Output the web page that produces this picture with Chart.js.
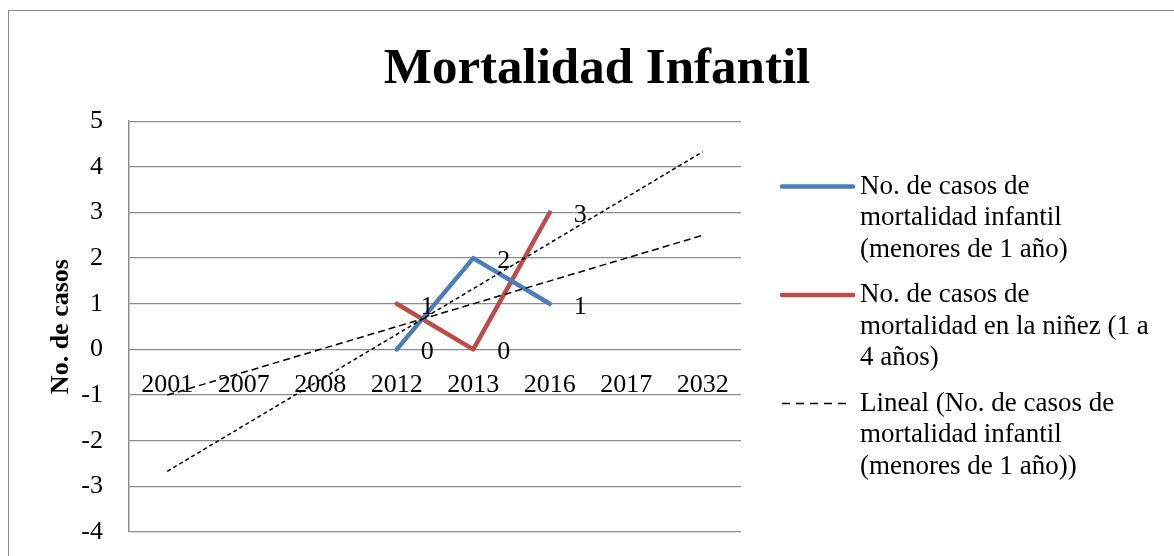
<!DOCTYPE html>
<html>
<head>
<meta charset="utf-8">
<script src="https://cdn.jsdelivr.net/npm/chart.js@4"></script>
<style>
  html, body { margin: 0; padding: 0; background: #fff; overflow: hidden; }
  #marco { position: absolute; left: 8px; top: 10px; width: 2000px; height: 2000px; border-left: 1.5px solid #8a8a8a; border-top: 1.5px solid #8a8a8a; }
  #lienzo { position: absolute; left: 0; top: 0; width: 1174px; height: 556px; }
</style>
</head>
<body>
<div id="marco"></div>
<div id="lienzo"><canvas id="mortalidadChart" width="1174" height="556"></canvas></div>
<script>
// Datos
var anios = ['2001', '2007', '2008', '2012', '2013', '2016', '2017', '2032'];
var casosInfantil = [null, null, null, 0, 2, 1, null, null];
var casosNinez = [null, null, null, 1, 0, 3, null, null];
// Lineas de tendencia (solo extremos)
var tendenciaInfantil = [-1, null, null, null, null, null, null, 2.5];
var tendenciaNinez = [-2.67, null, null, null, null, null, null, 4.33];
var yMin = -4;
var yMax = 5;

var leyendaInfantil = ['No. de casos de', 'mortalidad infantil', '(menores de 1 año)'];
var leyendaNinez = ['No. de casos de', 'mortalidad en la niñez (1 a', '4 años)'];
var leyendaLineal = ['Lineal (No. de casos de', 'mortalidad infantil', '(menores de 1 año))'];

var fuente = 'Liberation Serif';
var azul = '#4A7EBB';
var rojo = '#BE4B48';

// Etiquetas de valores a la derecha de cada punto
var etiquetasValores = {
    id: 'etiquetasValores',
    afterDatasetsDraw: function (chart) {
        var ctx = chart.ctx;
        ctx.save();
        ctx.font = '26px "' + fuente + '"';
        ctx.fillStyle = '#000';
        ctx.textAlign = 'left';
        ctx.textBaseline = 'middle';
        chart.data.datasets.forEach(function (ds, i) {
            if (!ds.mostrarValores) return;
            chart.getDatasetMeta(i).data.forEach(function (pt, j) {
                if (ds.data[j] === null) return;
                ctx.fillText(String(ds.data[j]), pt.x + 24, pt.y + 3);
            });
        });
        ctx.restore();
    }
};

// Leyenda de varias lineas a la derecha
var leyendaDerecha = {
    id: 'leyendaDerecha',
    afterDraw: function (chart) {
        var ctx = chart.ctx;
        var area = chart.chartArea;
        var items = [
            { lineas: leyendaInfantil, ds: chart.data.datasets[2] },
            { lineas: leyendaNinez, ds: chart.data.datasets[3] },
            { lineas: leyendaLineal, ds: chart.data.datasets[0], guiones: [8, 6] }
        ];
        var altoLinea = 31.5;
        var separacion = 14;
        var total = 0;
        items.forEach(function (it) { total += it.lineas.length * altoLinea; });
        total += separacion * (items.length - 1);
        var y = (area.top + area.bottom) / 2 - total / 2 + altoLinea / 2;
        var x0 = area.right + 41;
        var tx = area.right + 119;

        ctx.save();
        ctx.font = '27px "' + fuente + '"';
        ctx.fillStyle = '#000';
        ctx.textAlign = 'left';
        ctx.textBaseline = 'middle';
        items.forEach(function (it) {
            ctx.beginPath();
            ctx.strokeStyle = it.ds.borderColor;
            if (it.guiones) {
                ctx.lineWidth = 1.5;
                ctx.lineCap = 'butt';
                ctx.setLineDash(it.guiones);
                ctx.moveTo(x0, y);
                ctx.lineTo(x0 + 66, y);
            } else {
                ctx.lineWidth = it.ds.borderWidth;
                ctx.lineCap = 'round';
                ctx.setLineDash([]);
                ctx.moveTo(x0, y);
                ctx.lineTo(x0 + 71, y);
            }
            ctx.stroke();
            ctx.setLineDash([]);
            it.lineas.forEach(function (txt, k) {
                ctx.fillText(txt, tx, y + k * altoLinea);
            });
            y += it.lineas.length * altoLinea + separacion;
        });
        ctx.restore();
    }
};

var ctx = document.getElementById('mortalidadChart').getContext('2d');
var chart = new Chart(ctx, {
    type: 'line',
    data: {
        labels: anios,
        datasets: [{
            label: 'Lineal (No. de casos de mortalidad infantil (menores de 1 año))',
            data: tendenciaInfantil,
            borderColor: '#000',
            borderWidth: 1.5,
            borderDash: [7, 4],
            spanGaps: true,
            pointRadius: 0,
            order: 0
        }, {
            label: 'Lineal (No. de casos de mortalidad en la niñez (1 a 4 años))',
            data: tendenciaNinez,
            borderColor: '#000',
            borderWidth: 1.5,
            borderDash: [4, 3],
            spanGaps: true,
            pointRadius: 0,
            order: 0
        }, {
            label: 'No. de casos de mortalidad infantil (menores de 1 año)',
            data: casosInfantil,
            borderColor: azul,
            borderWidth: 4.5,
            borderJoinStyle: 'round',
            borderCapStyle: 'round',
            pointRadius: 0,
            mostrarValores: true,
            order: 1
        }, {
            label: 'No. de casos de mortalidad en la niñez (1 a 4 años)',
            data: casosNinez,
            borderColor: rojo,
            borderWidth: 4.5,
            borderJoinStyle: 'round',
            borderCapStyle: 'round',
            pointRadius: 0,
            mostrarValores: true,
            order: 1
        }]
    },
    options: {
        responsive: false,
        animation: false,
        layout: { padding: { left: 20, top: 0, right: 0, bottom: 24 } },
        plugins: {
            legend: { display: false },
            tooltip: { enabled: false },
            title: {
                display: true,
                text: 'Mortalidad Infantil',
                color: '#000',
                font: { family: fuente, size: 51, weight: 'bold' },
                padding: { top: 39, bottom: 21 }
            }
        },
        scales: {
            x: {
                position: { y: 0 },
                offset: true,
                grid: { display: false, drawTicks: false },
                border: { display: false },
                ticks: {
                    color: '#000',
                    font: { family: fuente, size: 26 },
                    padding: 20,
                    autoSkip: false,
                    maxRotation: 0
                }
            },
            y: {
                min: yMin,
                max: yMax,
                grid: {
                    color: '#8c8c8c',
                    lineWidth: 1.3,
                    drawTicks: true,
                    tickLength: 18,
                    tickColor: 'rgba(0,0,0,0)'
                },
                border: { display: true, color: '#8c8c8c', width: 1.5 },
                ticks: {
                    stepSize: 1,
                    color: '#000',
                    font: { family: fuente, size: 26 },
                    padding: 8
                },
                title: {
                    display: true,
                    text: 'No. de casos',
                    color: '#000',
                    font: { family: fuente, size: 26, weight: 'bold' },
                    padding: { top: 26, bottom: 0 }
                },
                afterFit: function (scale) { scale.width = 109; }
            },
            y2: {
                position: 'right',
                display: true,
                grid: { display: false },
                border: { display: false },
                ticks: { display: false },
                afterFit: function (scale) { scale.width = 433; }
            }
        }
    },
    plugins: [etiquetasValores, leyendaDerecha]
});
</script>
</body>
</html>
